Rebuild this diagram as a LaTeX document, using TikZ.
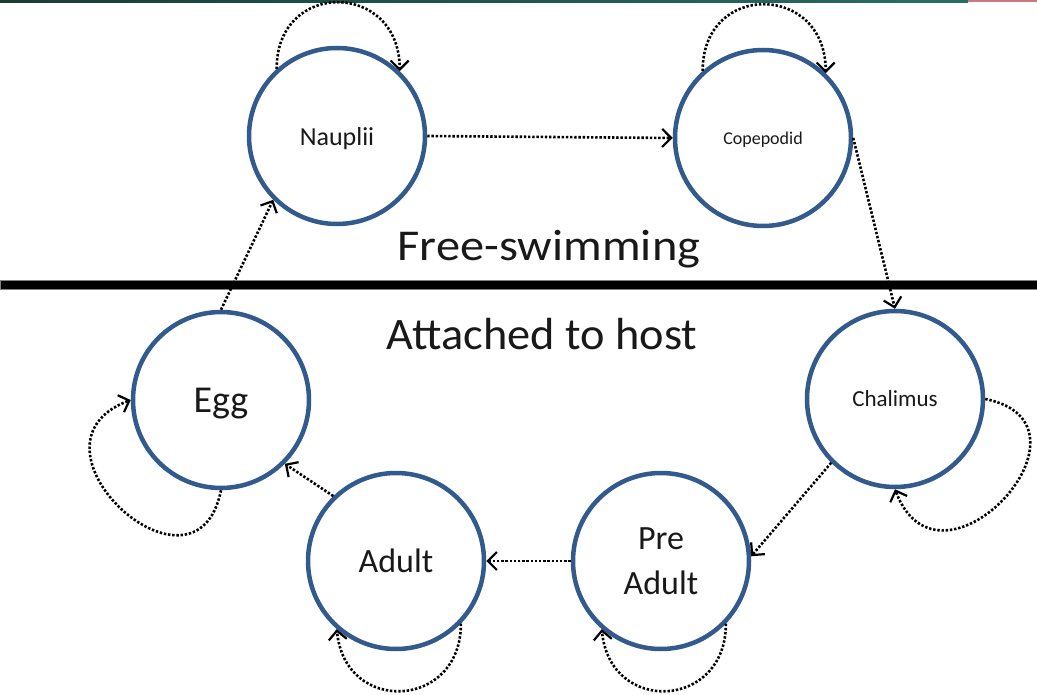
\documentclass[tikz,border=0pt]{standalone}
\usepackage{fontspec}
\usepackage{graphicx}
\setmainfont{Carlito}
\usetikzlibrary{arrows.meta}
\definecolor{ringblue}{RGB}{50,90,140}
\definecolor{stripA}{RGB}{24,62,52}
\definecolor{stripB}{RGB}{40,110,100}
\definecolor{stripC}{RGB}{200,120,130}
\begin{document}
\begin{tikzpicture}[x=1pt,y=-1pt,
  stage/.style={circle, draw=ringblue, line width=4.5pt, minimum size=176pt,
    inner sep=0pt, fill=white, text depth=0pt, align=center, text=black!90},
  link/.style={line width=2.6pt, dash pattern=on 2.4pt off 1.8pt,
    -{Straight Barb[length=9pt,width=18pt,line width=2.2pt]}},
  band/.style={font=\fontsize{45}{54}\selectfont, text=black!90, inner sep=0pt}]
\useasboundingbox (0,0) rectangle (1037,695);
% top strip
\shade[left color=stripA, right color=stripB] (0,0) rectangle (968,2.5);
\fill[stripC] (968,0) rectangle (1037,2.5);
% separator bar
\fill[black, draw=gray, line width=0.6pt] (0,280) rectangle (1037,289);
% labels
\node[band, anchor=base, font=\fontsize{44}{52}\selectfont] (free) at (549,261) {\scalebox{1.1}[1]{Free-swimming}};
\node[band, anchor=base] (att) at (542,349) {\scalebox{1.03}[1]{Attached to host}};
% stages
\node[stage, font=\fontsize{26}{31}\selectfont] (naup) at (337,136) {Nauplii};
\node[stage, font=\fontsize{18}{22}\selectfont] (cope) at (763,138) {Copepodid};
\node[stage, font=\fontsize{38}{46}\selectfont] (egg) at (221,400) {Egg};
\node[stage, font=\fontsize{23}{28}\selectfont] (chal) at (895,399) {Chalimus};
\node[stage, font=\fontsize{34}{41}\selectfont] (adult) at (396,561) {Adult};
\node[stage, font=\fontsize{34}{45}\selectfont] (pre) at (661,561) {Pre\\Adult};
% transitions
\draw[link] (naup.east) -- (cope.west);
\draw[link] (cope.east) -- (chal.north);
\draw[link] (chal.225) -- (pre.3);
\draw[link] (pre.west) -- (adult.east);
\draw[link] (adult.134) -- (egg.-45);
\draw[link] (egg.north) -- (naup.225);
% self loops
\draw[link] (naup.132) .. controls +(0,-90) and +(0,-90) .. (naup.46);
\draw[link] (cope.132) .. controls +(0,-90) and +(0,-90) .. (cope.46);
\draw[link] (egg.south) .. controls +(-25,125) and +(-120,45) .. (egg.west);
\draw[link] (chal.east) .. controls +(125,25) and +(45,120) .. (chal.south);
\draw[link] (adult.-44) .. controls +(0,86) and +(8,86) .. (adult.229);
\draw[link] (pre.-44) .. controls +(0,86) and +(8,86) .. (pre.229);
\end{tikzpicture}
\end{document}
